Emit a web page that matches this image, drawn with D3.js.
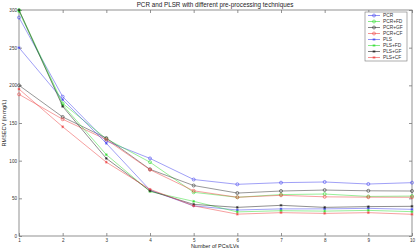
<!DOCTYPE html>
<html>
<head>
<meta charset="utf-8">
<script src="https://cdn.jsdelivr.net/npm/d3@7"></script>
<style>
body { margin: 0; background: #fff; }
text { font-family: "Liberation Sans", Arial, sans-serif; }
</style>
</head>
<body>
<div class="content"></div>
<script>
var width = 416;
var height = 250;

var pcs = [1, 2, 3, 4, 5, 6, 7, 8, 9, 10];
var yTicks = [0, 50, 100, 150, 200, 250, 300];
var seriesNames = ["PCR", "PCR+FD", "PCR+GF", "PCR+CF", "PLS", "PLS+FD", "PLS+GF", "PLS+CF"];
var pcr   = [290, 185, 126, 103, 75, 68.6, 70.8, 71.7, 69, 70.8];
var pcrFD = [300, 176, 129, 98, 58, 51.4, 55, 55.7, 52.5, 53];
var pcrGF = [200, 158, 130, 88.5, 67, 57, 59.7, 61, 60, 59.7];
var pcrCF = [188, 155, 128, 88, 60, 51.4, 54, 52, 51.5, 51.4];
var pls   = [250, 181, 123, 61, 40, 34.5, 36, 36, 36.7, 35.4];
var plsFD = [298, 174, 108, 59, 46, 32, 33.6, 33, 34, 32.3];
var plsGF = [300, 172, 103, 60, 42, 38, 40.7, 38, 39, 39.4];
var plsCF = [195, 145, 98, 62, 40, 29, 31, 30, 31, 28.8];

var seriesValues = [pcr, pcrFD, pcrGF, pcrCF, pls, plsFD, plsGF, plsCF];
var colors = ["#4444ee", "#33dd33", "#333333", "#ee4444", "#4444ee", "#33dd33", "#222222", "#ee4444"];
var markers = ["o", "o", "o", "o", "*", "*", "*", "*"];

var mLeft = 19, mRight = 412, mTop = 10, mBottom = 236;

var svg = d3.select(".content").append("svg").attr("width", width).attr("height", height);

var x = d3.scaleLinear().domain([1, 10]).range([mLeft, mRight]);
var y = d3.scaleLinear().domain([0, 300]).range([mBottom, mTop]);

// frame
svg.append("rect").attr("x", mLeft).attr("y", mTop).attr("width", mRight - mLeft).attr("height", mBottom - mTop)
  .attr("fill", "none").attr("stroke", "#777").attr("stroke-width", 0.8);

function styleAxis(g) {
  g.select(".domain").remove();
  g.selectAll("line").attr("stroke", "#777").attr("stroke-width", 0.8);
  g.selectAll("text").attr("font-size", 4.6).attr("fill", "#333").attr("font-family", "Liberation Sans, Arial, sans-serif");
}

svg.append("g").attr("transform", "translate(0," + mBottom + ")")
  .call(d3.axisBottom(x).tickValues(pcs).tickSize(-3).tickPadding(3).tickFormat(d3.format("d")))
  .call(styleAxis);
svg.append("g").attr("transform", "translate(0," + mTop + ")")
  .call(d3.axisTop(x).tickValues(pcs).tickSize(-3).tickFormat(""))
  .call(styleAxis);
svg.append("g").attr("transform", "translate(" + mLeft + ",0)")
  .call(d3.axisLeft(y).tickValues(yTicks).tickSize(-3).tickPadding(2).tickFormat(d3.format("d")))
  .call(styleAxis);
svg.append("g").attr("transform", "translate(" + mRight + ",0)")
  .call(d3.axisRight(y).tickValues(yTicks).tickSize(-3).tickFormat(""))
  .call(styleAxis);

var line = d3.line().x(function(d, i) { return x(pcs[i]); }).y(function(d) { return y(d); });

function drawMarker(g, type, cx, cy, color) {
  if (type === "o") {
    g.append("circle").attr("cx", cx).attr("cy", cy).attr("r", 1.5)
      .attr("fill", "none").attr("stroke", color).attr("stroke-width", 0.6);
  } else {
    var s = 1.4;
    g.append("path").attr("d",
      "M" + (cx - s) + "," + cy + "L" + (cx + s) + "," + cy +
      "M" + cx + "," + (cy - s) + "L" + cx + "," + (cy + s) +
      "M" + (cx - s * 0.7) + "," + (cy - s * 0.7) + "L" + (cx + s * 0.7) + "," + (cy + s * 0.7) +
      "M" + (cx - s * 0.7) + "," + (cy + s * 0.7) + "L" + (cx + s * 0.7) + "," + (cy - s * 0.7))
      .attr("stroke", color).attr("stroke-width", 0.6).attr("fill", "none");
  }
}

seriesValues.forEach(function(vals, k) {
  var g = svg.append("g");
  g.append("path").datum(vals).attr("d", line).attr("fill", "none")
    .attr("stroke", colors[k]).attr("stroke-width", 0.6).attr("opacity", 0.85);
  vals.forEach(function(v, i) { drawMarker(g, markers[k], x(pcs[i]), y(v), colors[k]); });
});

// legend
var lg = svg.append("g");
lg.append("rect").attr("x", 365).attr("y", 12).attr("width", 42).attr("height", 49)
  .attr("fill", "#fff").attr("stroke", "#777").attr("stroke-width", 0.6);
seriesNames.forEach(function(name, k) {
  var yy = 15.5 + k * 6;
  lg.append("line").attr("x1", 368).attr("x2", 380).attr("y1", yy).attr("y2", yy)
    .attr("stroke", colors[k]).attr("stroke-width", 0.6);
  drawMarker(lg, markers[k], 374, yy, colors[k]);
  lg.append("text").attr("x", 383).attr("y", yy + 1.7).attr("font-size", 4.8).attr("fill", "#333").text(name);
});

svg.append("text").attr("x", 215).attr("y", 7).attr("text-anchor", "middle")
  .attr("font-size", 6.3).attr("fill", "#222").text("PCR and PLSR with different pre-processing techniques");
svg.append("text").attr("x", 215).attr("y", 248).attr("text-anchor", "middle")
  .attr("font-size", 5.5).attr("fill", "#222").text("Number of PCs/LVs");
svg.append("text").attr("transform", "translate(6,123) rotate(-90)").attr("text-anchor", "middle")
  .attr("font-size", 5.5).attr("fill", "#222").text("RMSECV (in mg/L)");
</script>
</body>
</html>
